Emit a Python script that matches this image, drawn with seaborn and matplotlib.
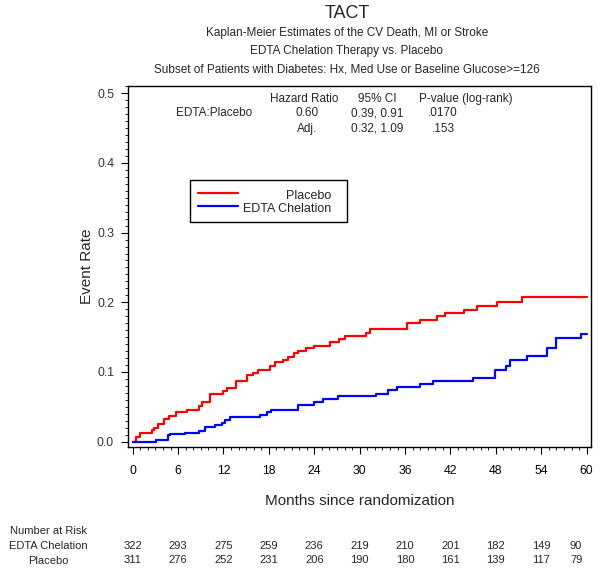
import numpy as np
import pandas as pd
import matplotlib
matplotlib.use('Agg')
import matplotlib.pyplot as plt
import seaborn as sns
from matplotlib.ticker import MultipleLocator, FormatStrFormatter
from matplotlib.patches import Rectangle

#KM step data (month, cumulative event rate)
placebo_months=[0,0.5,1.0,2.6,2.8,3.3,4.1,4.8,5.7,7.2,8.8,9.2,10.2,12.0,12.5,13.6,15.1,15.9,16.5,18.1,18.8,19.9,20.5,21.3,21.8,22.9,24.0,26.1,27.3,28.1,30.8,31.4,36.2,38.0,40.2,41.3,43.8,45.5,48.1,51.4,60.0]
placebo_rate=[0,0.007,0.013,0.017,0.019,0.026,0.032,0.037,0.042,0.0455,0.051,0.057,0.068,0.073,0.0766,0.0875,0.095,0.098,0.103,0.109,0.114,0.117,0.122,0.127,0.130,0.134,0.138,0.143,0.147,0.152,0.156,0.161,0.170,0.174,0.180,0.185,0.189,0.195,0.201,0.207,0.207]
edta_months=[0,3.1,4.7,4.9,6.9,8.8,9.6,10.9,11.8,12.2,12.8,16.8,17.7,18.3,21.9,24.0,25.1,27.2,32.1,33.8,34.9,38.0,39.7,45.0,47.9,49.4,49.9,52.1,54.8,55.9,59.3,60.0]
edta_rate=[0,0.0024,0.0096,0.011,0.013,0.016,0.021,0.024,0.027,0.031,0.035,0.038,0.042,0.046,0.053,0.057,0.061,0.066,0.069,0.074,0.079,0.083,0.0875,0.092,0.103,0.108,0.117,0.123,0.135,0.149,0.155,0.155]

groups=['Placebo','EDTA Chelation']
colors={'Placebo':'#ff0000','EDTA Chelation':'#0000ff'}

#number at risk table
risk_months=[0,6,12,18,24,30,36,42,48,54,60]
risk_edta=[322,293,275,259,236,219,210,201,182,149,90]
risk_placebo=[311,276,252,231,206,190,180,161,139,117,79]

#hazard ratio box
hr_header=['Hazard Ratio','95% CI','P-value (log-rank)']
hr_row1=['EDTA:Placebo','0.60','0.39, 0.91','.0170']
hr_row2=['Adj.','0.32, 1.09','.153']

df=pd.concat([
    pd.DataFrame({'month':placebo_months,'rate':placebo_rate,'group':'Placebo'}),
    pd.DataFrame({'month':edta_months,'rate':edta_rate,'group':'EDTA Chelation'}),
])

sns.set_style('ticks')
plt.rcParams['font.family']=['Liberation Sans','DejaVu Sans']

fig=plt.figure(figsize=(6,5.73),dpi=100)
ax=fig.add_axes([0.2133,0.2199,0.7717,0.630])

sns.lineplot(data=df,x='month',y='rate',hue='group',palette=colors,
             drawstyle='steps-post',estimator=None,legend=False,lw=1.6,ax=ax)

ax.set_xlim(-0.62,60.57)
ax.set_ylim(-0.0076,0.5103)
ax.xaxis.set_major_locator(MultipleLocator(6))
ax.xaxis.set_minor_locator(MultipleLocator(1))
ax.yaxis.set_major_locator(MultipleLocator(0.1))
ax.yaxis.set_minor_locator(MultipleLocator(0.01))
ax.yaxis.set_major_formatter(FormatStrFormatter('%.1f'))
ax.tick_params(which='major',length=5,width=0.8,labelsize=8.8,colors='black',pad=8)
ax.tick_params(which='minor',length=2.5,width=0.7)
ax.tick_params(axis='y',labelcolor='#333333',pad=5)
for s in ax.spines.values():
    s.set_visible(True)
    s.set_color('black')
    s.set_linewidth(1)

ax.set_xlabel('Months since randomization',fontsize=11,labelpad=12)
ax.set_ylabel('Event Rate',fontsize=11,labelpad=2)

#titles
tx=0.578
fig.text(tx,1-13/573,'TACT',ha='center',va='center',fontsize=13)
fig.text(tx,1-33/573,'Kaplan-Meier Estimates of the CV Death, MI or Stroke',ha='center',va='center',fontsize=8.5)
fig.text(tx,1-51/573,'EDTA Chelation Therapy vs. Placebo',ha='center',va='center',fontsize=8.5)
fig.text(tx,1-70/573,'Subset of Patients with Diabetes: Hx, Med Use or Baseline Glucose>=126',ha='center',va='center',fontsize=8.5)

#hazard ratio table
fs=8.5
ax.text(0.380,0.964,hr_header[0],transform=ax.transAxes,ha='center',va='center',fontsize=fs)
ax.text(0.538,0.964,hr_header[1],transform=ax.transAxes,ha='center',va='center',fontsize=fs)
ax.text(0.730,0.964,hr_header[2],transform=ax.transAxes,ha='center',va='center',fontsize=fs)
ax.text(0.186,0.924,hr_row1[0],transform=ax.transAxes,ha='center',va='center',fontsize=fs)
ax.text(0.387,0.924,hr_row1[1],transform=ax.transAxes,ha='center',va='center',fontsize=fs)
ax.text(0.538,0.924,hr_row1[2],transform=ax.transAxes,ha='center',va='center',fontsize=fs)
ax.text(0.680,0.924,hr_row1[3],transform=ax.transAxes,ha='center',va='center',fontsize=fs)
ax.text(0.387,0.882,hr_row2[0],transform=ax.transAxes,ha='center',va='center',fontsize=fs)
ax.text(0.538,0.882,hr_row2[1],transform=ax.transAxes,ha='center',va='center',fontsize=fs)
ax.text(0.682,0.882,hr_row2[2],transform=ax.transAxes,ha='center',va='center',fontsize=fs)

#legend box (lines left, labels right-aligned like the original)
ax.add_patch(Rectangle((0.134,0.623),0.339,0.117,transform=ax.transAxes,fill=False,ec='black',lw=1))
for g,yy in zip(groups,[0.704,0.668]):
    ax.plot([0.151,0.238],[yy,yy],transform=ax.transAxes,color=colors[g],lw=1.6)
    ax.text(0.440,yy-0.01,g,transform=ax.transAxes,ha='right',va='center',fontsize=9)

#number at risk
trans=ax.get_xaxis_transform()
fig.text(48/600,1-530.7/573,'Number at Risk',ha='center',va='center',fontsize=8)
fig.text(48/600,1-546/573,'EDTA Chelation',ha='center',va='center',fontsize=8)
fig.text(48/600,1-560.7/573,'Placebo',ha='center',va='center',fontsize=8)
for i,(m,a,b) in enumerate(zip(risk_months,risk_edta,risk_placebo)):
    xm=m if m<60 else 58.6
    ax.text(xm,-0.274,str(a),transform=trans,ha='center',va='center',fontsize=8,clip_on=False)
    ax.text(xm,-0.314,str(b),transform=trans,ha='center',va='center',fontsize=8,clip_on=False)

plt.savefig('out.png',dpi=100)
